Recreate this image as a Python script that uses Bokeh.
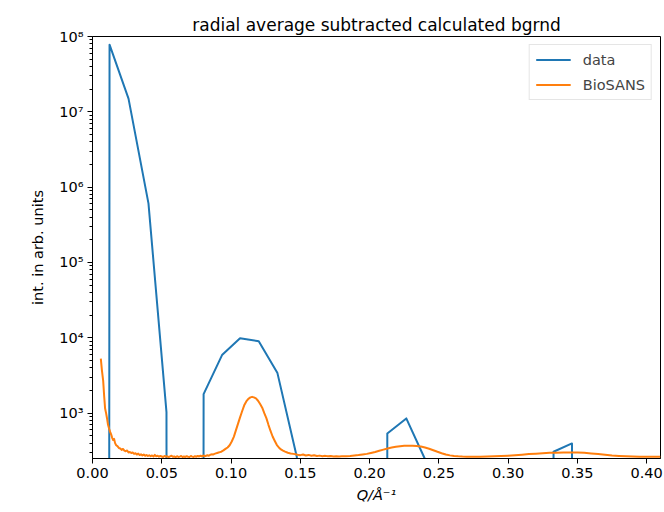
from bokeh.plotting import figure
from bokeh.models import FixedTicker, PrintfTickFormatter, Range1d, Legend, LegendItem
from bokeh.embed import file_html
from bokeh.resources import INLINE

# ---------------- data ----------------
title_text = "radial average subtracted calculated bgrnd"
x_label = "Q/Å⁻¹"
y_label = "int. in arb. units"

q_data = [0.0, 0.0123, 0.0260, 0.0404, 0.0534, 0.0670, 0.0802, 0.0935, 0.1065, 0.1200,
          0.1335, 0.1475, 0.1610, 0.1990, 0.2128, 0.2265, 0.2398, 0.2535, 0.3190, 0.3328,
          0.3461, 0.3600, 0.4100]
i_data = [0, 7.8e7, 1.5e7, 6.1e5, 1030, 0, 1790, 5900, 9900, 9000,
          3400, 262, 0, 0, 538, 851, 250, 0, 0, 307,
          396, 0, 0]

q_bio = [0.0060, 0.0068, 0.0077, 0.0084, 0.0091, 0.0098, 0.0105, 0.0112, 0.0120, 0.0128,
         0.0135, 0.0142, 0.0149, 0.0156, 0.0163, 0.0171, 0.0180, 0.0190, 0.0200, 0.0210,
         0.0220, 0.0230, 0.0240, 0.0250, 0.0260, 0.0270, 0.0280, 0.0290, 0.0300, 0.0310,
         0.0320, 0.0330, 0.0340, 0.0350, 0.0360, 0.0370, 0.0380, 0.0390, 0.0400, 0.0410,
         0.0420, 0.0430, 0.0440, 0.0450, 0.0460, 0.0470, 0.0480, 0.0490, 0.0500, 0.0510,
         0.0520, 0.0530, 0.0540, 0.0550, 0.0560, 0.0570, 0.0580, 0.0590, 0.0600, 0.0610,
         0.0620, 0.0630, 0.0640, 0.0650, 0.0660, 0.0670, 0.0680, 0.0690, 0.0700, 0.0710,
         0.0720, 0.0730, 0.0740, 0.0750, 0.0760, 0.0770, 0.0780, 0.0790, 0.0800, 0.0810,
         0.0820, 0.0830, 0.0840, 0.0850, 0.0860, 0.0870, 0.0880, 0.0890, 0.0900, 0.0910,
         0.0920, 0.0930, 0.0945, 0.0960, 0.0975, 0.0990, 0.1005, 0.1020, 0.1035, 0.1050,
         0.1065, 0.1080, 0.1095, 0.1110, 0.1125, 0.1140, 0.1152, 0.1165, 0.1180, 0.1195,
         0.1210, 0.1225, 0.1240, 0.1255, 0.1270, 0.1285, 0.1300, 0.1315, 0.1330, 0.1345,
         0.1360, 0.1375, 0.1390, 0.1410, 0.1430, 0.1450, 0.1465, 0.1480, 0.1500, 0.1520,
         0.1540, 0.1560, 0.1580, 0.1600, 0.1620, 0.1640, 0.1660, 0.1680, 0.1700, 0.1720,
         0.1740, 0.1760, 0.1780, 0.1800, 0.1830, 0.1860, 0.1890, 0.1920, 0.1950, 0.1980,
         0.2010, 0.2040, 0.2070, 0.2100, 0.2130, 0.2160, 0.2190, 0.2220, 0.2250, 0.2280,
         0.2310, 0.2340, 0.2370, 0.2400, 0.2430, 0.2460, 0.2490, 0.2520, 0.2550, 0.2580,
         0.2610, 0.2640, 0.2670, 0.2700, 0.2750, 0.2800, 0.2850, 0.2900, 0.2950, 0.3000,
         0.3050, 0.3100, 0.3150, 0.3200, 0.3250, 0.3300, 0.3350, 0.3400, 0.3450, 0.3500,
         0.3550, 0.3600, 0.3650, 0.3700, 0.3750, 0.3800, 0.3850, 0.3900, 0.3950, 0.4000,
         0.4050, 0.4100]
i_bio = [5300, 3700, 2700, 1700, 1150, 1000, 850, 700, 620, 560,
         520, 470, 440, 455, 400, 375, 365, 345, 340, 325,
         335, 318, 312, 320, 300, 305, 296, 300, 288, 294,
         282, 290, 278, 284, 275, 282, 272, 278, 270, 276,
         268, 274, 266, 279, 268, 272, 264, 270, 266, 262,
         270, 264, 268, 261, 267, 272, 263, 266, 260, 268,
         262, 265, 270, 261, 266, 262, 268, 264, 262, 270,
         265, 262, 268, 264, 270, 266, 272, 266, 274, 268,
         272, 276, 272, 280, 284, 282, 288, 292, 296, 300,
         304, 308, 320, 335, 350, 375, 420, 485, 590, 720,
         880, 1060, 1270, 1430, 1550, 1620, 1645, 1620, 1570, 1460,
         1320, 1180, 1000, 860, 700, 580, 490, 430, 380, 350,
         330, 318, 308, 298, 292, 288, 285, 280, 277, 282,
         274, 279, 272, 276, 270, 273, 268, 271, 267, 270,
         266, 268, 266, 267, 268, 270, 274, 278, 283, 288,
         296, 305, 316, 328, 340, 350, 358, 364, 368, 370,
         370, 367, 360, 350, 337, 322, 307, 294, 283, 275,
         270, 267, 265, 264, 263, 264, 265, 267, 269, 272,
         276, 281, 286, 290, 294, 297, 299, 301, 301, 300,
         297, 292, 286, 280, 274, 270, 267, 265, 264, 263,
         263, 263]

x_ticks = [0.0, 0.05, 0.10, 0.15, 0.20, 0.25, 0.30, 0.35, 0.40]
y_ticks = [1e3, 1e4, 1e5, 1e6, 1e7, 1e8]
y_tick_labels = ["10³", "10⁴", "10⁵", "10⁶", "10⁷", "10⁸"]
series_names = ["data", "BioSANS"]
series_colors = ["#1f77b4", "#ff7f0e"]

# zeros are clipped to a tiny positive value on the log axis (like matplotlib)
i_data_plot = [v if v > 0 else 1e-300 for v in i_data]

FONT = "DejaVu Sans"

p = figure(width=664, height=512, y_axis_type="log",
           x_range=Range1d(0, 0.41), y_range=Range1d(250, 1e8),
           output_backend="svg", toolbar_location=None,
           min_border_left=92, min_border_right=4, min_border_top=36, min_border_bottom=54,
           title=title_text)

p.title.text_font = FONT
p.title.text_font_size = "17px"
p.title.text_font_style = "normal"
p.title.align = "center"
p.title.standoff = 4
p.title.text_color = "black"

p.xgrid.visible = False
p.ygrid.visible = False
p.outline_line_color = "black"
p.outline_line_alpha = 1.0
p.outline_line_width = 1
p.background_fill_color = "white"
p.border_fill_color = "white"

minor = []
for e in range(2, 8):
    for k in range(2, 10):
        minor.append(k * 10 ** e)
p.yaxis.ticker = FixedTicker(ticks=y_ticks, minor_ticks=minor)
p.yaxis.major_label_overrides = {t: lab for t, lab in zip(y_ticks, y_tick_labels)}
p.xaxis.ticker = FixedTicker(ticks=x_ticks)
p.xaxis.formatter = PrintfTickFormatter(format="%.2f")

for ax in (p.xaxis[0], p.yaxis[0]):
    ax.axis_line_color = "black"
    ax.major_tick_line_color = "black"
    ax.minor_tick_line_color = "black"
    ax.major_tick_in = 0
    ax.major_tick_out = 5
    ax.minor_tick_in = 0
    ax.minor_tick_out = 3
    ax.major_label_text_font = FONT
    ax.major_label_text_font_size = "14.5px"
    ax.major_label_text_color = "black"
    ax.axis_label_text_font = FONT
    ax.axis_label_text_font_size = "14.5px"
    ax.axis_label_text_color = "black"
    ax.major_label_standoff = 4

p.xaxis.axis_label = x_label
p.xaxis.axis_label_text_font_style = "italic"
p.xaxis.axis_label_standoff = 6
p.yaxis.axis_label = y_label
p.yaxis.axis_label_text_font_style = "normal"
p.yaxis.axis_label_standoff = 10

r1 = p.line(q_data, i_data_plot, color=series_colors[0], line_width=2, line_join="round")
r2 = p.line(q_bio, i_bio, color=series_colors[1], line_width=2, line_join="round")

legend = Legend(items=[LegendItem(label=series_names[0], renderers=[r1]),
                       LegendItem(label=series_names[1], renderers=[r2])],
                location="top_right", margin=8, padding=6, spacing=8,
                glyph_width=35, glyph_height=17, label_height=17, label_standoff=12,
                label_text_font=FONT, label_text_font_size="14.5px",
                border_line_color="#cccccc", border_line_width=1,
                background_fill_alpha=0.8)
p.add_layout(legend)

open("out.html", "w").write(file_html(p, INLINE))
